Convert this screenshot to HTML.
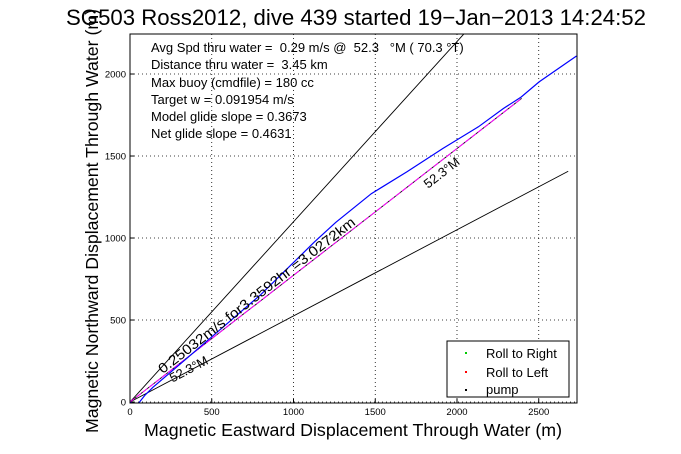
<!DOCTYPE html>
<html><head><meta charset="utf-8"><style>
html,body{margin:0;padding:0;background:#fff;}
svg{display:block;font-family:"Liberation Sans",Arial,sans-serif;}
text{white-space:pre;}
</style></head><body>
<svg id="chart" width="681" height="454" viewBox="0 0 681 454">
  <rect x="0" y="0" width="681" height="454" fill="#fff"/>
  <text x="356" y="25" font-size="22" text-anchor="middle" textLength="580" lengthAdjust="spacingAndGlyphs">SG503 Ross2012, dive 439 started 19−Jan−2013 14:24:52</text>
  <g id="grid"></g>
  <g id="ticks"></g>
  <g id="series"></g>
  <rect x="130" y="34" width="447" height="369" fill="none" stroke="#000" stroke-width="1"/>
  <g font-size="13">
    <text x="151" y="52">Avg Spd thru water =  0.29 m/s @  52.3   °M ( 70.3 °T)</text>
    <text x="151" y="69">Distance thru water =  3.45 km</text>
    <text x="151" y="87">Max buoy (cmdfile) = 180 cc</text>
    <text x="151" y="104">Target w = 0.091954 m/s</text>
    <text x="151" y="121">Model glide slope = 0.3673</text>
    <text x="151" y="138">Net glide slope = 0.4631</text>
  </g>
  <g id="legend">
    <rect x="447" y="341" width="122" height="56" fill="#fff" stroke="#000"/>
    <rect x="465" y="352" width="2" height="2" fill="#0c0"/>
    <text x="486" y="358" font-size="13">Roll to Right</text>
    <rect x="465" y="371" width="2" height="2" fill="#f00"/>
    <text x="486" y="377" font-size="13">Roll to Left</text>
    <rect x="465" y="389" width="2" height="2" fill="#000"/>
    <text x="486" y="394" font-size="13">pump</text>
  </g>
  <text x="353" y="436" font-size="17.5" text-anchor="middle" textLength="418" lengthAdjust="spacingAndGlyphs">Magnetic Eastward Displacement Through Water (m)</text>
  <text transform="translate(98,221) rotate(-90)" font-size="17.5" text-anchor="middle" textLength="424" lengthAdjust="spacingAndGlyphs">Magnetic Northward Displacement Through Water (m)</text>
</svg>
<script>
const xTicks = [0, 500, 1000, 1500, 2000, 2500];
const yTicks = [0, 500, 1000, 1500, 2000];
const trackX = [0, 20, 50, 90, 140, 300, 585, 800, 1127, 1258, 1476, 1694, 1913, 2131, 2284, 2393, 2502, 2731];
const trackY = [0, -12, -10, 40, 90, 225, 470, 655, 975, 1095, 1270, 1404, 1546, 1678, 1790, 1860, 1952, 2110];
const headingDeg = 52.3;
const spreadDeg = 10;
const distanceM = 3027.2;
const X0 = 0, X1 = 2734, Y0 = -6, Y1 = 2244;
const PL = 130, PR = 577, PT = 34, PB = 403;
function sx(u){ return PL + (u - X0) / (X1 - X0) * (PR - PL); }
function sy(v){ return PB - (v - Y0) / (Y1 - Y0) * (PB - PT); }
const NS = 'http://www.w3.org/2000/svg';
function mk(tag, attrs, parent){ const e = document.createElementNS(NS, tag); for (const k in attrs) e.setAttribute(k, attrs[k]); parent.appendChild(e); return e; }
const grid = document.getElementById('grid'), ticks = document.getElementById('ticks'), series = document.getElementById('series');
xTicks.forEach(t => {
  const gl = mk('line', {x1: sx(t), x2: sx(t), y1: PT, y2: PB, stroke: '#000', 'stroke-width': 0.8, 'stroke-dasharray': '1,3'}, grid);
  
  
  const tk = mk('line', {x1: sx(t), x2: sx(t), y1: PB, y2: PB - 4, stroke: '#000'}, ticks);
  
  
  const lb = mk('text', {x: sx(t), y: PB + 12, 'font-size': 9.5, 'text-anchor': 'middle'}, ticks);
  lb.textContent = String(t);
  
  
});
yTicks.forEach(t => {
  const gl = mk('line', {x1: PL, x2: PR, y1: sy(t), y2: sy(t), stroke: '#000', 'stroke-width': 0.8, 'stroke-dasharray': '1,3'}, grid);
  
  
  const tk = mk('line', {x1: PL, x2: PL + 4, y1: sy(t), y2: sy(t), stroke: '#000'}, ticks);
  
  
  const lb = mk('text', {x: PL - 4, y: sy(t) + 3.5, 'font-size': 9.5, 'text-anchor': 'end'}, ticks);
  lb.textContent = String(t);
  
  
});
const clip = mk('clipPath', {id: 'pc'}, mk('defs', {}, document.getElementById('chart')));
mk('rect', {x: PL, y: PT, width: PR - PL, height: PB - PT}, clip);
series.setAttribute('clip-path', 'url(#pc)');
function ray(deg, len, color, name){
  const r = deg * Math.PI / 180;
  const l = mk('line', {x1: sx(0), y1: sy(0), x2: sx(len * Math.sin(r)), y2: sy(len * Math.cos(r)), stroke: color, 'stroke-width': 0.9}, series);
  
  
}
ray(headingDeg - spreadDeg, distanceM * 1.2, '#000', 'heading-minus-line');
ray(headingDeg + spreadDeg, distanceM, '#000', 'heading-plus-line');
ray(headingDeg, distanceM, '#000', 'heading-line');
const mg = mk('line', {x1: sx(0), y1: sy(0), x2: sx(distanceM * Math.sin(headingDeg*Math.PI/180)), y2: sy(distanceM * Math.cos(headingDeg*Math.PI/180)), stroke: '#f0f', 'stroke-width': 1, 'stroke-dasharray': '6,2'}, series);


const pts = trackX.map((v, i) => sx(v).toFixed(1) + ',' + sy(trackY[i]).toFixed(1)).join(' ');
const tr = mk('polyline', {points: pts, fill: 'none', stroke: '#00f', 'stroke-width': 1.2}, series);


const ang = -Math.atan2(sy(0) - sy(Math.cos(headingDeg*Math.PI/180)), sx(Math.sin(headingDeg*Math.PI/180)) - sx(0)) * 180 / Math.PI;
const t1 = mk('text', {transform: 'translate(' + (sx(1823)) + ',' + (sy(1300)) + ') rotate(' + ang + ')', 'font-size': 13}, series);
t1.textContent = '52.3°M';


const t2 = mk('text', {transform: 'translate(' + (sx(200)) + ',' + (sy(170)) + ') rotate(' + ang + ')', 'font-size': 14, textLength: 245, lengthAdjust: 'spacingAndGlyphs'}, series);
t2.textContent = '0.25032m/s for3.3592hr =3.0272km';


const a3 = -Math.atan2(sy(0) - sy(Math.cos((headingDeg+spreadDeg)*Math.PI/180)), sx(Math.sin((headingDeg+spreadDeg)*Math.PI/180)) - sx(0)) * 180 / Math.PI;
const t3 = mk('text', {transform: 'translate(' + (sx(260)) + ',' + (sy(118)) + ') rotate(' + a3 + ')', 'font-size': 13}, series);
t3.textContent = '52.3°M';


</script>
</body></html>
